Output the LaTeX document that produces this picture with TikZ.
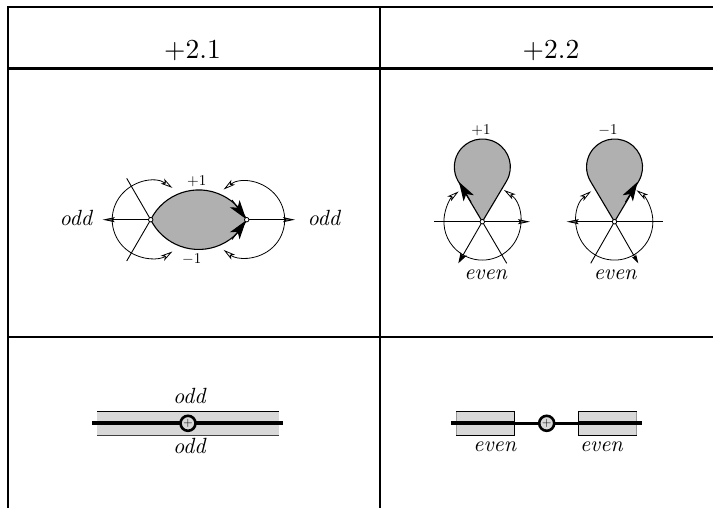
\documentclass[tikz,border=0pt]{standalone}
\usepackage{graphicx}
\usetikzlibrary{arrows.meta}
\definecolor{lensgray}{HTML}{B0B0B0}
\definecolor{bandgray}{HTML}{D8D8D8}
\newcommand{\txtbig}[1]{\scalebox{2.75}{$#1$}}
\newcommand{\txtmid}[1]{\scalebox{2.2}{$\mathit{#1}$}}
\newcommand{\txtsmall}[1]{\scalebox{1.5}{$#1$}}
\tikzset{
  x=1pt,y=1pt,
  rulethin/.style={line width=2pt,black},
  rulethick/.style={line width=3pt,black},
  labeltext/.style={inner sep=0pt},
  lensshape/.style={draw=black,line width=1.1pt,fill=lensgray},
  spoke/.style={line width=0.9pt,black},
  ringarc/.style={line width=0.8pt,black,{Stealth[length=12pt,width=6pt,fill=white,inset=3pt]}-{Stealth[length=12pt,width=6pt,fill=white,inset=3pt]}},
  blackhead/.style={line width=1pt,-{Stealth[length=19pt,width=12pt,inset=5pt]}},
  endhead/.style={spoke,-{Stealth[length=12pt,width=5pt,inset=2pt,fill=black!60]}},
  fullhead/.style={spoke,-{Stealth[length=11pt,width=7pt,inset=3pt]}},
  smallhead/.style={spoke,-{Stealth[length=9pt,width=5pt,inset=2pt]}},
  vertexdot/.style={circle,draw=black,fill=white,line width=0.8pt,minimum size=4.5pt,inner sep=0pt},
  band/.style={fill=bandgray},
  strand/.style={line width=4pt,black},
  crossing/.style={circle,draw=black,fill=bandgray,line width=2.6pt,minimum size=15pt,inner sep=0pt},
}
\begin{document}
\begin{tikzpicture}
\useasboundingbox (0,0) rectangle (713,-508);
% table
\coordinate (tl) at (8,-7); \coordinate (tr) at (713,-7);
\coordinate (bl) at (8,-508); \coordinate (tm) at (380,-7); \coordinate (bm) at (380,-508);
\coordinate (hl) at (8,-69); \coordinate (hr) at (713,-69);
\coordinate (rl) at (8,-337); \coordinate (rr) at (713,-337);
\draw[rulethin] (bl) -- (tl) -- (tr);
\draw[rulethin] (tm) -- (bm);
\draw[rulethick] (hl) -- (hr);
\draw[rulethin] (rl) -- (rr);
\node[labeltext] (h1) at (192.5,-50.5) {\txtbig{+2.1}};
\node[labeltext] (h2) at (551,-50.5) {\txtbig{+2.2}};

% cell 2.1
\coordinate (la) at (150.7,-219.7);
\coordinate (ra) at (246.7,-219.7);
\draw[ringarc] (150.7,-219.7) ++(55.7:38.5) arc[start angle=55.7,end angle=304.3,radius=38.5];
\draw[ringarc] (246.7,-219.7) ++(127.4:38) arc[start angle=127.4,end angle=-127.4,radius=38];
\path[lensshape] (la) arc[start angle=153.6,end angle=26.4,radius=53.6] arc[start angle=-26.4,end angle=-153.6,radius=53.6] -- cycle;
\coordinate (ls1) at (126.7,-178.3); \coordinate (ls2) at (126.7,-261);
\coordinate (lh) at (102.7,-219.7); \coordinate (rh) at (295,-219.7);
\draw[spoke] (la) -- (ls1);
\draw[spoke] (la) -- (ls2);
\draw[endhead] (la) -- (lh);
\draw[endhead] (ra) -- (rh);
\coordinate (t1a) at (232,-200); \coordinate (t1b) at (246,-219);
\coordinate (t2a) at (232,-239.5); \coordinate (t2b) at (246,-220.5);
\draw[blackhead] (t1a) -- (t1b);
\draw[blackhead] (t2a) -- (t2b);
\node[vertexdot] at (la) {};
\node[vertexdot] at (ra) {};
\node[labeltext] (p1) at (196.7,-181.5) {\txtsmall{+1}};
\node[labeltext] (m1) at (191.7,-259) {\txtsmall{-1}};
\node[labeltext] (o1) at (77,-217.5) {\txtmid{odd}};
\node[labeltext] (o2) at (325,-217.5) {\txtmid{odd}};

% cell 2.2 left
\coordinate (va) at (482.3,-221.7);
\draw[ringarc] (va) ++(55.6:38.4) arc[start angle=55.6,end angle=-232,radius=38.4];
\coordinate (vat) at (459,-182);
\path[lensshape] (va) -- (506.6,-181) arc[start angle=-30,end angle=210,radius=28] -- cycle;
\coordinate (va1) at (434.3,-221.7); \coordinate (va2) at (530,-221.7);
\coordinate (va3) at (458.3,-263.3); \coordinate (va4) at (506.7,-263.3);
\draw[spoke] (va1) -- (va);
\draw[endhead] (va) -- (va2);
\draw[fullhead] (va) -- (va3);
\draw[spoke] (va) -- (va4);
\coordinate (va5) at (471,-202);
\draw[blackhead] (va5) -- (vat);
\node[vertexdot] at (va) {};
\node[labeltext] (p2) at (481,-130.5) {\txtsmall{+1}};
\node[labeltext] (e1) at (486.5,-275) {\txtmid{even}};

% cell 2.2 right
\coordinate (vb) at (614.5,-221.7);
\draw[ringarc] (vb) ++(127.5:38.4) arc[start angle=127.5,end angle=415,radius=38.4];
\coordinate (vbt) at (637.5,-182);
\path[lensshape] (vb) -- (638.8,-181) arc[start angle=-30,end angle=210,radius=28] -- cycle;
\coordinate (vb1) at (566.7,-221.7); \coordinate (vb2) at (662.7,-221.7);
\coordinate (vb3) at (590.7,-263.3); \coordinate (vb4) at (638.3,-263.3);
\draw[endhead] (vb) -- (vb1);
\draw[spoke] (vb) -- (vb2);
\draw[spoke] (vb) -- (vb3);
\draw[smallhead] (vb) -- (vb4);
\coordinate (vb5) at (625.5,-202);
\draw[blackhead] (vb5) -- (vbt);
\node[vertexdot] at (vb) {};
\node[labeltext] (m2) at (608,-130.5) {\txtsmall{-1}};
\node[labeltext] (e2) at (616,-275) {\txtmid{even}};

% bottom left
\fill[band] (97.3,-411.7) rectangle (279,-435);
\draw[line width=1pt] (97.3,-411.7) -- (279,-411.7);
\draw[line width=1pt,black!75] (97.3,-435) -- (279,-435);
\coordinate (s1) at (92.3,-423.3); \coordinate (s2) at (283.3,-423.3);
\draw[strand] (s1) -- (s2);
\node[crossing] (c1) at (188,-423.3) {\scalebox{1.25}{$+$}};
\node[labeltext] (o3) at (190.5,-396) {\txtmid{odd}};
\node[labeltext] (o4) at (190.5,-445.5) {\txtmid{odd}};

% bottom right
\fill[band] (456,-411.7) rectangle (514.3,-435);
\fill[band] (578.3,-411.7) rectangle (636.7,-435);
\draw[line width=0.5pt,black!40] (456,-411.7) -- (456,-435);
\draw[line width=0.5pt,black!40] (636.7,-411.7) -- (636.7,-435);
\draw[line width=1pt] (456,-411.7) -- (514.3,-411.7) -- (514.3,-435) -- (456,-435);
\draw[line width=1pt] (636.7,-411.7) -- (578.3,-411.7) -- (578.3,-435) -- (636.7,-435);
\coordinate (s3) at (451,-423.3); \coordinate (s4) at (641.7,-423.3);
\coordinate (s5) at (514.3,-423.3); \coordinate (s6) at (578.3,-423.3);
\draw[line width=3pt] (s5) -- (s6);
\draw[strand] (s3) -- (s5);
\draw[strand] (s6) -- (s4);
\node[crossing] (c2) at (546.7,-423.3) {\scalebox{1.25}{$+$}};
\node[labeltext] (e3) at (495.7,-446.5) {\txtmid{even}};
\node[labeltext] (e4) at (602.3,-446.5) {\txtmid{even}};
\end{tikzpicture}
\end{document}
